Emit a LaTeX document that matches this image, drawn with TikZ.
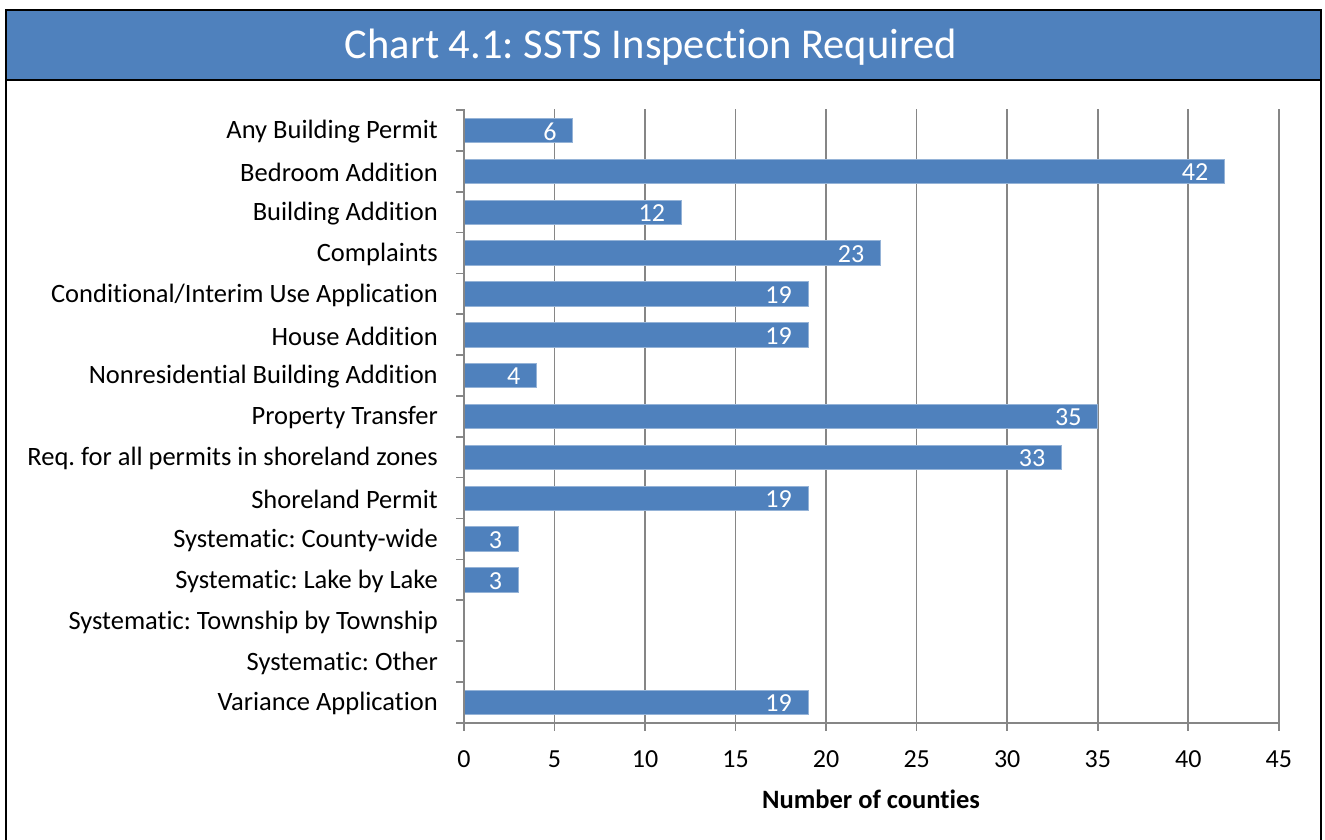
\documentclass[tikz,border=0pt]{standalone}
\usepackage{fontspec}
\setmainfont{Carlito}[Ligatures=NoCommon]
\frenchspacing
\definecolor{barblue}{HTML}{4F81BD}
\definecolor{gridgray}{HTML}{868686}
\begin{document}
\begin{tikzpicture}[x=1pt,y=-1pt,
  frameline/.style={line width=2pt,black},
  gridline/.style={gridgray,line width=1.6pt},
  barbox/.style={fill=barblue,draw=barblue!60!white,line width=0.6pt},
  catlabel/.style={anchor=east,font=\fontsize{26.5}{30}\selectfont,inner sep=0pt},
  vallabel/.style={anchor=east,font=\fontsize{26}{30}\selectfont,text=white,inner sep=0pt},
  ticklabel/.style={anchor=center,font=\fontsize{26}{30}\selectfont,inner sep=0pt}]
\useasboundingbox (0,0) rectangle (1325,839);
% title bar
\fill[barblue] (6,10) rectangle (1321,80);
\draw[frameline] (6,845) -- (6,10) -- (1321,10) -- (1321,845);
\draw[frameline] (6,80) -- (1321,80);
\node[text=white,font=\fontsize{42.5}{48}\selectfont] (title) at (651,47) {Chart 4.1: SSTS Inspection Required};
% grid
\pgfmathsetmacro{\u}{18.107}
\foreach \v in {5,10,...,45}{
  \draw[gridline] ({464+\v*\u},109) -- ({464+\v*\u},731);
}
\foreach \v in {0,5,...,45}{
  \node[ticklabel] (t\v) at ({464+\v*\u},759) {\v};
}
% bars
\foreach \i/\name/\val in {0/Any Building Permit/6,1/Bedroom Addition/42,2/Building Addition/12,3/Complaints/23,4/Conditional\slash Interim Use Application/19,5/House Addition/19,6/Nonresidential Building Addition/4,7/Property Transfer/35,8/Req. for all permits in shoreland zones/33,9/Shoreland Permit/19,10/Systematic: County-wide/3,11/Systematic: Lake by Lake/3,12/Systematic: Township by Township/0,13/Systematic: Other/0,14/Variance Application/19}{
  \pgfmathsetmacro{\yc}{110+40.85*(\i+0.5)}
  \node[catlabel] (c\i) at (438,\yc+1.5) {\name};
  \ifnum\val>0
    \draw[barbox] (464,\yc-12.2) rectangle ({464+\val*\u},\yc+12.2);
    \node[vallabel] (v\i) at ({464+\val*\u-16},\yc+1) {\val};
  \fi
}
% axes
\draw[gridline] (464,109) -- (464,731);
\draw[gridline] (456,722.7) -- (1279,722.7);
\foreach \i in {0,...,15}{
  \draw[gridline] (456,{110+40.85*\i}) -- (464,{110+40.85*\i});
}
\node[font=\bfseries\fontsize{26.5}{30}\selectfont] (xt) at (871,799) {Number of counties};
\end{tikzpicture}
\end{document}
